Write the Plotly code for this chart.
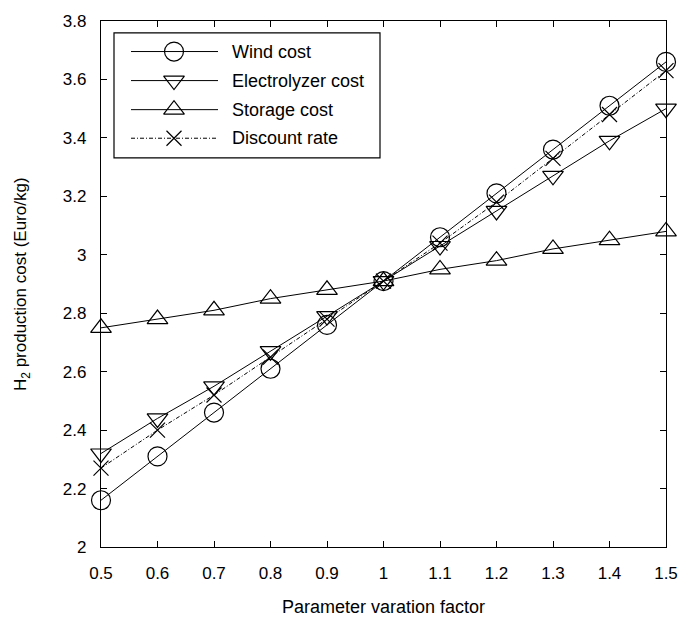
import plotly.graph_objects as go

factor = [0.5, 0.6, 0.7, 0.8, 0.9, 1.0, 1.1, 1.2, 1.3, 1.4, 1.5]
wind_cost = [2.16, 2.31, 2.46, 2.61, 2.76, 2.91, 3.06, 3.21, 3.36, 3.51, 3.66]
electrolyzer_cost = [2.32, 2.44, 2.55, 2.67, 2.79, 2.91, 3.03, 3.15, 3.27, 3.39, 3.50]
storage_cost = [2.75, 2.78, 2.81, 2.85, 2.88, 2.91, 2.95, 2.98, 3.02, 3.05, 3.08]
discount_rate = [2.27, 2.40, 2.52, 2.65, 2.78, 2.91, 3.04, 3.18, 3.33, 3.48, 3.63]

names = ["Wind cost", "Electrolyzer cost", "Storage cost", "Discount rate"]
series = [wind_cost, electrolyzer_cost, storage_cost, discount_rate]
symbols = ["circle-open", "triangle-down-open", "triangle-up-open", "x-thin-open"]
sizes = [19, 18, 18, 15]
dashes = ["solid", "solid", "solid", "4px,2px,1px,2px"]

x_ticks = [0.5, 0.6, 0.7, 0.8, 0.9, 1.0, 1.1, 1.2, 1.3, 1.4, 1.5]
x_ticktext = ["0.5", "0.6", "0.7", "0.8", "0.9", "1", "1.1", "1.2", "1.3", "1.4", "1.5"]
y_ticks = [2.0, 2.2, 2.4, 2.6, 2.8, 3.0, 3.2, 3.4, 3.6, 3.8]
y_ticktext = ["2", "2.2", "2.4", "2.6", "2.8", "3", "3.2", "3.4", "3.6", "3.8"]

FONT = "Liberation Sans, Arial, sans-serif"
W, H = 692, 619
ML, MR, MT, MB = 101, 26, 13, 72
PW, PH = W - ML - MR, H - MT - MB

fig = go.Figure()
for name, ys, sym, sz, dash in zip(names, series, symbols, sizes, dashes):
    fig.add_trace(go.Scatter(
        x=factor, y=ys, name=name, mode="lines+markers",
        line=dict(color="black", width=1, dash=dash),
        marker=dict(symbol=sym, size=sz, color="black", line=dict(width=1.2, color="black")),
        showlegend=False, cliponaxis=False,
    ))

# Manual legend (pixel layout converted to paper coords)
def px(xp):
    return (xp - ML) / PW

def py(yp):
    return (H - MB - yp) / PH

box = dict(x0=114, x1=380, y0=25, y1=152)
fig.add_shape(type="rect", xref="paper", yref="paper",
              x0=px(box["x0"]), x1=px(box["x1"]), y0=py(box["y1"]), y1=py(box["y0"]),
              line=dict(color="black", width=1.2), fillcolor="rgba(0,0,0,0)", layer="above")
entry_y = [44, 73.5, 103, 132]
for name, sym, sz, dash, ey in zip(names, symbols, sizes, dashes, entry_y):
    fig.add_trace(go.Scatter(
        x=[px(131), px(174), px(218)], y=[py(ey)] * 3, xaxis="x2", yaxis="y2",
        mode="lines+markers",
        line=dict(color="black", width=1, dash=dash),
        marker=dict(symbol=sym, size=sz, color="black", opacity=[0, 1, 0],
                    line=dict(width=1.2, color="black")),
        showlegend=False, hoverinfo="skip", cliponaxis=False,
    ))
    fig.add_annotation(xref="paper", yref="paper", x=px(230), y=py(ey), text=name,
                       showarrow=False, xanchor="left", yanchor="middle",
                       font=dict(family=FONT, size=18, color="black"))

axis_common = dict(showgrid=False, zeroline=False, showline=True, linecolor="black",
                   linewidth=1.2, mirror="ticks", ticks="inside", ticklen=6,
                   tickcolor="black", tickwidth=1,
                   tickfont=dict(family=FONT, size=17, color="black"))
fig.update_layout(
    width=W, height=H, margin=dict(l=ML, r=MR, t=MT, b=MB),
    paper_bgcolor="white", plot_bgcolor="white",
    xaxis=dict(range=[0.5, 1.5], tickvals=x_ticks, ticktext=x_ticktext,
               ticklabelstandoff=10, **axis_common),
    yaxis=dict(range=[2.0, 3.8], tickvals=y_ticks, ticktext=y_ticktext,
               ticklabelstandoff=10, **axis_common),
    xaxis2=dict(range=[0, 1], overlaying="x", visible=False, fixedrange=True),
    yaxis2=dict(range=[0, 1], overlaying="y", visible=False, fixedrange=True),
)
fig.add_annotation(xref="paper", yref="paper", x=0.5, y=0, yshift=-60,
                   text="Parameter varation factor", showarrow=False,
                   xanchor="center", yanchor="middle",
                   font=dict(family=FONT, size=18, color="black"))
fig.add_annotation(xref="paper", yref="paper", x=0, y=0.5, xshift=-79,
                   text="H<sub>2</sub> production cost (Euro/kg)", showarrow=False,
                   textangle=-90, xanchor="center", yanchor="middle",
                   font=dict(family=FONT, size=17, color="black"))

fig.write_html("out.html")
